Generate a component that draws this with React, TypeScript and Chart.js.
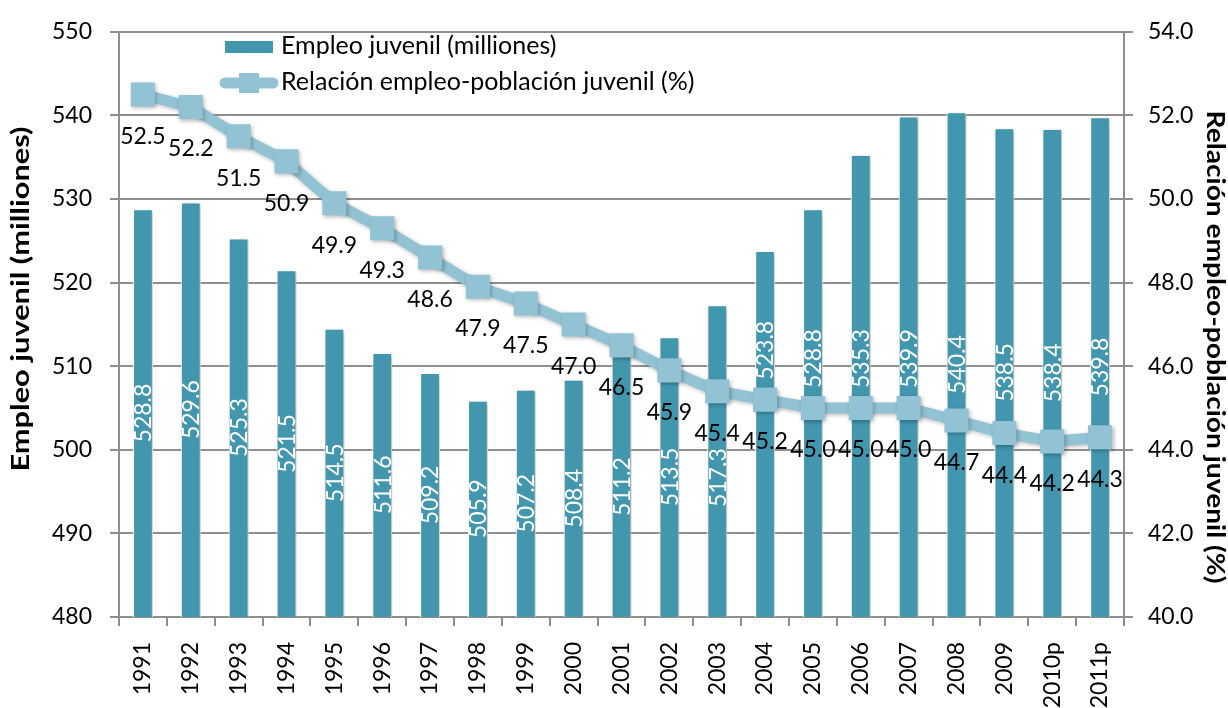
import React, { useEffect, useRef } from 'react';
import { Chart, registerables } from 'chart.js';

Chart.register(...registerables);

const categories = ['1991', '1992', '1993', '1994', '1995', '1996', '1997', '1998', '1999', '2000', '2001', '2002', '2003', '2004', '2005', '2006', '2007', '2008', '2009', '2010p', '2011p'];
const youthEmployment = [528.8, 529.6, 525.3, 521.5, 514.5, 511.6, 509.2, 505.9, 507.2, 508.4, 511.2, 513.5, 517.3, 523.8, 528.8, 535.3, 539.9, 540.4, 538.5, 538.4, 539.8];
const employmentRatio = [52.5, 52.2, 51.5, 50.9, 49.9, 49.3, 48.6, 47.9, 47.5, 47.0, 46.5, 45.9, 45.4, 45.2, 45.0, 45.0, 45.0, 44.7, 44.4, 44.2, 44.3];

const leftAxisMin = 480;
const leftAxisMax = 550;
const leftAxisStep = 10;
const rightAxisMin = 40;
const rightAxisMax = 54;
const rightAxisStep = 2;

const barSeriesName = 'Empleo juvenil (milliones)';
const lineSeriesName = 'Relación empleo-población juvenil (%)';
const leftAxisTitle = 'Empleo juvenil (milliones)';
const rightAxisTitle = 'Relación empleo-población juvenil (%)';

const BAR_COLOR = '#4297AF';
const LINE_COLOR = '#92C3D5';
const GRID_COLOR = '#8f8f8f';
const FONT = 'Lato, "Open Sans", sans-serif';

function drawBarLabels(chart: any) {
  const ctx = chart.ctx;
  const xs = chart.scales.x;
  const ys = chart.scales.y;
  const ys1 = chart.scales.y1;
  const base = chart.chartArea.bottom;
  ctx.save();
  ctx.shadowColor = 'rgba(0,0,0,0)';
  ctx.shadowBlur = 0;
  ctx.shadowOffsetX = 0;
  ctx.shadowOffsetY = 0;
  ctx.globalAlpha = 1;
  ctx.font = `23px ${FONT}`;
  ctx.fillStyle = '#ffffff';
  ctx.textAlign = 'center';
  ctx.textBaseline = 'middle';
  for (let i = 0; i < youthEmployment.length; i++) {
    const x = xs.getPixelForValue(i);
    const top = ys.getPixelForValue(youthEmployment[i]);
    const py = ys1.getPixelForValue(employmentRatio[i]);
    const text = youthEmployment[i].toFixed(1);
    const L = ctx.measureText(text).width;
    let c = (top + base) / 2;
    const zoneTop = py - 16;
    const zoneBottom = py + 42 + 11;
    if (c + L / 2 > zoneTop && c - L / 2 < zoneBottom) {
      const upC = zoneTop - 4 - L / 2;
      if (upC - L / 2 >= top + 20) c = upC;
      else c = zoneBottom + 4 + L / 2;
    }
    ctx.save();
    ctx.translate(x + 1, c);
    ctx.rotate(-Math.PI / 2);
    ctx.fillText(text, 0, 0);
    ctx.restore();
  }
  ctx.restore();
}

function drawFitted(ctx: any, text: string, x: number, y: number, rot: number, font: string, target: number) {
  ctx.save();
  ctx.translate(x, y);
  ctx.rotate(rot);
  ctx.font = font;
  const w = ctx.measureText(text).width || target;
  ctx.scale(target / w, 1);
  ctx.fillText(text, 0, 0);
  ctx.restore();
}

const chartPlugin = {
  id: 'customDecor',
  beforeDatasetsDraw(chart: any) {
    chart.$barLabelsDrawn = false;
  },
  beforeDatasetDraw(chart: any, args: any) {
    const ctx = chart.ctx;
    const isLine = (args && args.meta && args.meta.type === 'line') || (args && args.index === 1);
    if (isLine && !chart.$barLabelsDrawn) {
      drawBarLabels(chart);
      chart.$barLabelsDrawn = true;
    }
    ctx.save();
    ctx.shadowColor = 'rgba(0,0,0,0.28)';
    ctx.shadowBlur = 4;
    ctx.shadowOffsetX = 1.5;
    ctx.shadowOffsetY = 1.5;
  },
  afterDatasetDraw(chart: any) {
    chart.ctx.restore();
  },
  afterDatasetsDraw(chart: any) {
    const ctx = chart.ctx;
    if (!chart.$barLabelsDrawn) {
      drawBarLabels(chart);
      chart.$barLabelsDrawn = true;
    }
    const xs = chart.scales.x;
    const ys1 = chart.scales.y1;
    ctx.save();
    ctx.font = `23px ${FONT}`;
    ctx.fillStyle = '#000000';
    ctx.textAlign = 'center';
    ctx.textBaseline = 'middle';
    employmentRatio.forEach((v, i) => {
      ctx.fillText(v.toFixed(1), xs.getPixelForValue(i), ys1.getPixelForValue(v) + 42);
    });
    ctx.restore();

    // legend
    ctx.save();
    ctx.fillStyle = BAR_COLOR;
    ctx.fillRect(225, 41, 48, 12);
    ctx.strokeStyle = LINE_COLOR;
    ctx.lineWidth = 11;
    ctx.lineCap = 'round';
    ctx.beginPath();
    ctx.moveTo(225, 83);
    ctx.lineTo(273, 83);
    ctx.stroke();
    ctx.fillStyle = LINE_COLOR;
    ctx.fillRect(239, 73, 20, 20);
    ctx.fillStyle = '#000000';
    ctx.font = `25px ${FONT}`;
    ctx.textAlign = 'left';
    ctx.textBaseline = 'middle';
    ctx.fillText(barSeriesName, 281, 46);
    ctx.fillText(lineSeriesName, 281, 82);
    ctx.restore();

    // axis titles
    ctx.save();
    ctx.fillStyle = '#000000';
    ctx.textAlign = 'center';
    ctx.textBaseline = 'middle';
    drawFitted(ctx, leftAxisTitle, 21, 299, -Math.PI / 2, `bold 25px ${FONT}`, 345);
    drawFitted(ctx, rightAxisTitle, 1215, 347, Math.PI / 2, `bold 25px ${FONT}`, 473);
    ctx.restore();
  },
};

export default function App() {
  const canvasRef = useRef<HTMLCanvasElement | null>(null);

  useEffect(() => {
    const canvas = canvasRef.current;
    if (!canvas) return;
    const chart = new Chart(canvas, {
      type: 'bar',
      data: {
        labels: categories,
        datasets: [
          {
            type: 'bar',
            label: barSeriesName,
            data: youthEmployment,
            yAxisID: 'y',
            backgroundColor: BAR_COLOR,
            borderColor: '#ffffff',
            borderWidth: 1.2,
            barPercentage: 0.42,
            categoryPercentage: 1,
            order: 2,
          } as any,
          {
            type: 'line',
            label: lineSeriesName,
            data: employmentRatio,
            yAxisID: 'y1',
            borderColor: LINE_COLOR,
            backgroundColor: LINE_COLOR,
            borderWidth: 11,
            borderJoinStyle: 'round',
            pointStyle: 'rect',
            pointRadius: 17,
            pointBorderWidth: 0,
            pointBackgroundColor: LINE_COLOR,
            order: 1,
          } as any,
        ],
      },
      options: {
        responsive: false,
        animation: false,
        devicePixelRatio: 1,
        layout: { padding: { top: 25, left: 0, right: 0, bottom: 0 } },
        plugins: {
          legend: { display: false },
          tooltip: { enabled: false },
          title: { display: false },
        },
        scales: {
          x: {
            type: 'category',
            offset: true,
            grid: {
              offset: true,
              drawOnChartArea: false,
              drawTicks: true,
              tickLength: 9,
              color: GRID_COLOR,
              lineWidth: 2,
            },
            border: { display: true, color: GRID_COLOR, width: 2 },
            ticks: {
              maxRotation: 90,
              minRotation: 90,
              autoSkip: false,
              padding: 16,
              color: '#000000',
              font: { family: FONT, size: 23 },
            },
            afterFit: (s: any) => {
              s.height = 91;
            },
          },
          y: {
            type: 'linear',
            position: 'left',
            min: leftAxisMin,
            max: leftAxisMax,
            ticks: {
              stepSize: leftAxisStep,
              padding: 18,
              color: '#000000',
              font: { family: FONT, size: 23 },
            },
            grid: {
              drawOnChartArea: true,
              drawTicks: true,
              tickLength: 9,
              color: GRID_COLOR,
              lineWidth: 2,
            },
            border: { display: true, color: GRID_COLOR, width: 2 },
            afterFit: (s: any) => {
              s.width = 119;
            },
          },
          y1: {
            type: 'linear',
            position: 'right',
            min: rightAxisMin,
            max: rightAxisMax,
            ticks: {
              stepSize: rightAxisStep,
              padding: 15,
              color: '#000000',
              font: { family: FONT, size: 23 },
              callback: (v: any) => Number(v).toFixed(1),
            },
            grid: {
              drawOnChartArea: false,
              drawTicks: true,
              tickLength: 9,
              color: GRID_COLOR,
              lineWidth: 2,
            },
            border: { display: true, color: GRID_COLOR, width: 2 },
            afterFit: (s: any) => {
              s.width = 104;
            },
          },
        },
      },
      plugins: [chartPlugin],
    });
    return () => {
      chart.destroy();
    };
  }, []);

  return (
    <div style={{ position: 'absolute', left: 0, top: 0, width: 1228, height: 708, background: '#ffffff' }}>
      <canvas ref={canvasRef} width={1228} height={708} style={{ display: 'block', width: 1228, height: 708 }} />
    </div>
  );
}
